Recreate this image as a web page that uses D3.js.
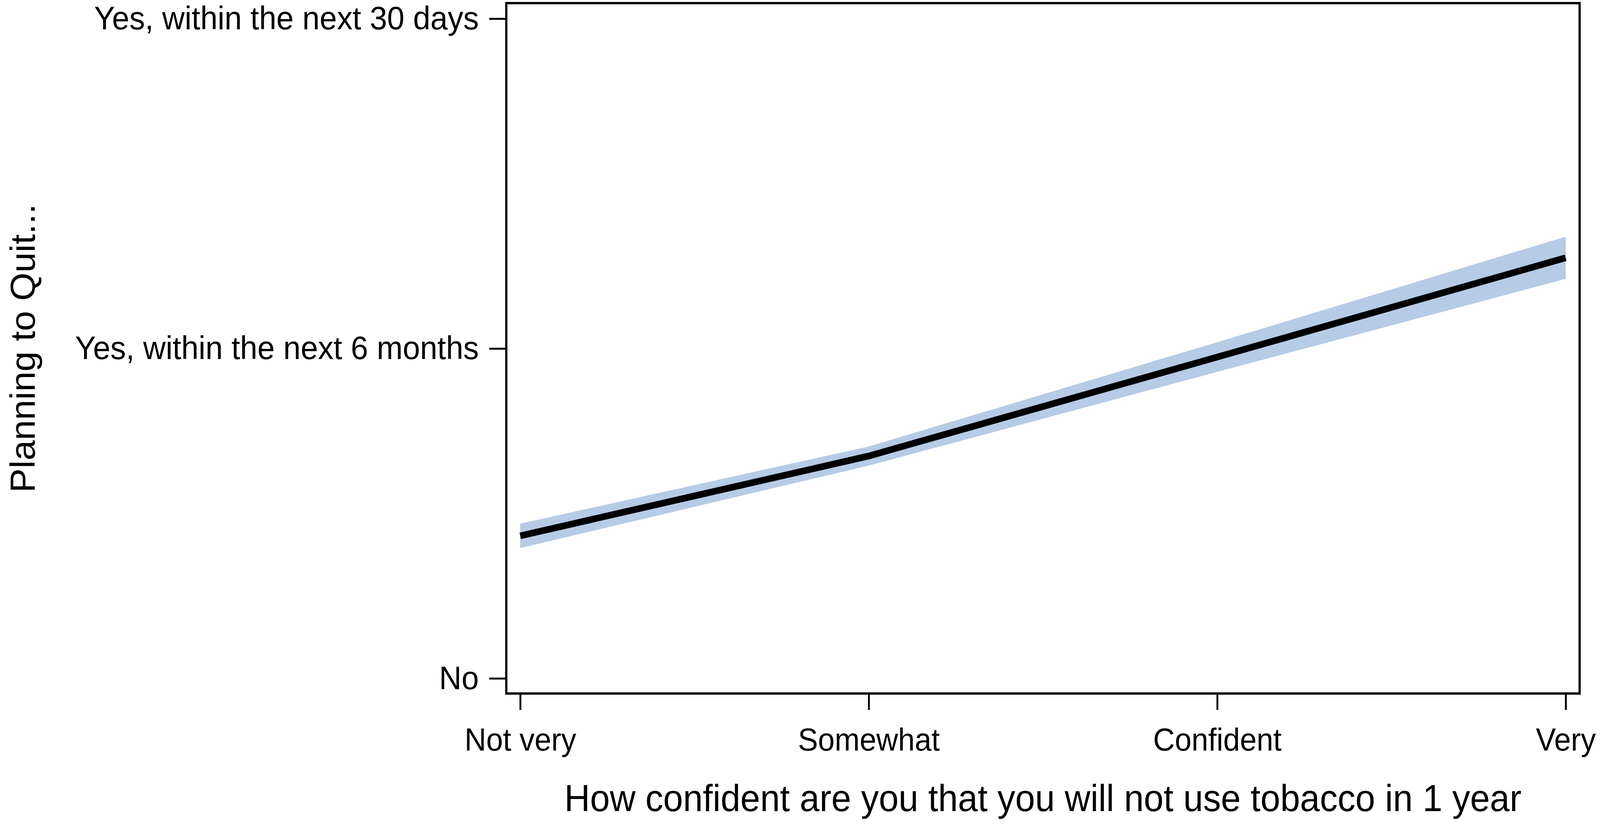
<!DOCTYPE html>
<html lang="en">
<head>
    <meta charset="UTF-8">
    <title>Planning to Quit by Confidence</title>
    <style>
        html, body {
            margin: 0;
            padding: 0;
            overflow: hidden;
            background-color: #FFFFFF;
        }
        #chart svg {
            display: block;
            width: 100vw;
            height: 100vh;
        }
        svg text {
            font-family: "Liberation Sans", Arial, sans-serif;
            fill: #000000;
        }
    </style>
</head>
<body>
    <div id="chart"></div>

    <script src="https://d3js.org/d3.v7.min.js"></script>
    <script>
        // Data
        const categories = ["Not very", "Somewhat", "Confident", "Very"];
        const predicted = [0.432, 0.674, 0.974, 1.275];
        const lower = [0.395, 0.645, 0.929, 1.211];
        const upper = [0.469, 0.703, 1.019, 1.339];
        const yTickValues = [0, 1, 2];
        const yTickLabels = ["No", "Yes, within the next 6 months", "Yes, within the next 30 days"];

        const xTitle = "How confident are you that you will not use tobacco in 1 year";
        const yTitle = "Planning to Quit...";

        // Layout
        const width = 4317;
        const height = 2109;
        const margin = { top: 8, right: 55, bottom: 334, left: 1366 };
        const plotW = width - margin.left - margin.right;
        const plotH = height - margin.top - margin.bottom;

        // viewBox so the drawing always fills the window
        const svg = d3.select("#chart")
            .append("svg")
            .attr("viewBox", `0 0 ${width} ${height}`)
            .attr("preserveAspectRatio", "none");

        const g = svg.append("g")
            .attr("transform", `translate(${margin.left},${margin.top})`);

        // Scales
        const x = d3.scalePoint()
            .domain(categories)
            .range([0, plotW])
            .padding(0.04);

        const y = d3.scaleLinear()
            .domain([-0.046, 2.047])
            .range([plotH, 0]);

        const rows = categories.map((c, i) => ({
            cat: c,
            mid: predicted[i],
            lo: lower[i],
            hi: upper[i]
        }));

        // Confidence band
        const area = d3.area()
            .x(d => x(d.cat))
            .y0(d => y(d.lo))
            .y1(d => y(d.hi));

        g.append("path")
            .datum(rows)
            .attr("d", area)
            .attr("fill", "#b6cbe6")
            .attr("stroke", "none");

        // Predicted line
        const line = d3.line()
            .x(d => x(d.cat))
            .y(d => y(d.mid));

        g.append("path")
            .datum(rows)
            .attr("d", line)
            .attr("fill", "none")
            .attr("stroke", "#000000")
            .attr("stroke-width", 17);

        // Axes
        const xAxis = g.append("g")
            .attr("transform", `translate(0,${plotH})`)
            .call(d3.axisBottom(x).tickSize(42).tickSizeOuter(0).tickPadding(46));

        const yAxis = g.append("g")
            .call(d3.axisLeft(y)
                .tickValues(yTickValues)
                .tickFormat((d, i) => yTickLabels[i])
                .tickSize(46)
                .tickSizeOuter(0)
                .tickPadding(28));

        [xAxis, yAxis].forEach(a => {
            a.select(".domain").remove();
            a.selectAll(".tick line")
                .attr("stroke", "#000000")
                .attr("stroke-width", 5);
        });

        xAxis.selectAll(".tick text").attr("font-size", "81px");
        yAxis.selectAll(".tick text").attr("font-size", "84px");

        // Frame around the plot area
        g.append("rect")
            .attr("x", 0)
            .attr("y", 0)
            .attr("width", plotW)
            .attr("height", plotH)
            .attr("fill", "none")
            .attr("stroke", "#000000")
            .attr("stroke-width", 6);

        // Axis titles
        svg.append("text")
            .attr("x", margin.left + plotW / 2)
            .attr("y", 2076)
            .attr("text-anchor", "middle")
            .attr("font-size", "96px")
            .text(xTitle);

        svg.append("text")
            .attr("transform", `translate(94,${margin.top + plotH / 2}) rotate(-90)`)
            .attr("text-anchor", "middle")
            .attr("font-size", "93px")
            .text(yTitle);
    </script>
</body>
</html>
